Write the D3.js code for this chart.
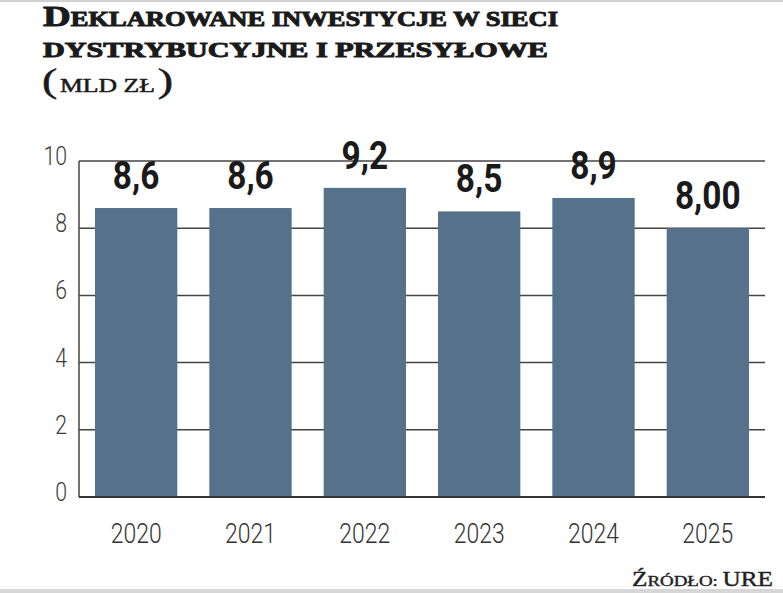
<!DOCTYPE html>
<html><head><meta charset="utf-8">
<script src="https://cdn.jsdelivr.net/npm/d3@7"></script>
<style>body{margin:0;background:#fff}svg{display:block}</style>
</head><body>
<script>
const years = ["2020","2021","2022","2023","2024","2025"];
const values = [8.6, 8.6, 9.2, 8.5, 8.9, 8.0];
const valueLabels = ["8,6","8,6","9,2","8,5","8,9","8,00"];
const yTicks = [0,2,4,6,8,10];

const W = 783, H = 593;
const svg = d3.select("body").append("svg").attr("width", W).attr("height", H);

svg.append("rect").attr("x",0).attr("y",0).attr("width",W).attr("height",2).attr("fill","#d0d0d0");
svg.append("rect").attr("x",0).attr("y",589).attr("width",W).attr("height",4).attr("fill","#d6d6d6");

const x = d3.scaleBand().domain(years).range([79, 765]).paddingInner(0.28).paddingOuter(0.14);
const y = d3.scaleLinear().domain([0, 10]).range([497, 161]);

// gridlines
svg.append("g").selectAll("line").data(yTicks).join("line")
  .attr("x1", 79).attr("x2", 765)
  .attr("y1", d => y(d)).attr("y2", d => y(d))
  .attr("stroke", "#444").attr("stroke-width", 1.5);
svg.append("line").attr("x1",79).attr("x2",79).attr("y1",y(10)).attr("y2",y(0))
  .attr("stroke","#444").attr("stroke-width",1.5);

// bars
svg.append("g").selectAll("rect").data(values).join("rect")
  .attr("x", (d,i) => x(years[i])).attr("width", x.bandwidth())
  .attr("y", d => y(d)).attr("height", d => y(0) - y(d))
  .attr("fill", "#56718a");
svg.append("line").attr("x1",79).attr("x2",765).attr("y1",y(0)).attr("y2",y(0))
  .attr("stroke","#333").attr("stroke-width",2);

function sText(g, tx, ty, sx, txt, anchor, size, weight, fill, family) {
  const gg = g.append("g").attr("transform", `translate(${tx},${ty})`);
  gg.append("text").attr("transform", `scale(${sx},1)`)
    .attr("text-anchor", anchor).attr("font-size", size).attr("font-weight", weight)
    .attr("fill", fill).attr("font-family", family).text(txt);
}

// y tick labels
const gy = svg.append("g");
yTicks.forEach(t => sText(gy, 67, y(t) + 4, 0.85, String(t), "end", 25, 300, "#3a3a3a", "Roboto"));

// year labels
const gx = svg.append("g");
years.forEach(yr => sText(gx, x(yr) + x.bandwidth()/2, 543, 0.82, yr, "middle", 28, 300, "#333", "Roboto"));

// value labels
const gv = svg.append("g");
values.forEach((v, i) => sText(gv, x(years[i]) + x.bandwidth()/2, y(v) - 19, 0.88, valueLabels[i], "middle", 38, 700, "#1a1a1a", "Roboto"));

// title
const serif = "'Liberation Serif', serif";
const t1 = svg.append("text").attr("x", 43).attr("y", 26).attr("font-family", serif)
  .attr("font-weight", 700).attr("fill", "#1a1a1a").attr("stroke", "#1a1a1a").attr("stroke-width", 0.9)
  .attr("textLength", 515).attr("lengthAdjust", "spacingAndGlyphs");
t1.append("tspan").attr("font-size", 29).text("D");
t1.append("tspan").attr("font-size", 20).text("EKLAROWANE INWESTYCJE W SIECI");
svg.append("text").attr("x", 43).attr("y", 57).attr("font-family", serif)
  .attr("font-weight", 700).attr("fill", "#1a1a1a").attr("stroke", "#1a1a1a").attr("stroke-width", 0.9)
  .attr("font-size", 20)
  .attr("textLength", 505).attr("lengthAdjust", "spacingAndGlyphs")
  .text("DYSTRYBUCYJNE I PRZESYŁOWE");
const t3 = svg.append("text").attr("x", 42).attr("y", 92).attr("font-family", serif)
  .attr("font-weight", 400).attr("fill", "#1a1a1a").attr("stroke", "#1a1a1a").attr("stroke-width", 0.5)
  .attr("textLength", 131).attr("lengthAdjust", "spacingAndGlyphs");
t3.append("tspan").attr("font-size", 34).text("(");
t3.append("tspan").attr("font-size", 19).attr("dx", 2).text("MLD ZŁ");
t3.append("tspan").attr("font-size", 34).attr("dx", 2).text(")");

// source
const s = svg.append("text").attr("x", 632).attr("y", 586).attr("font-family", serif)
  .attr("fill", "#222").attr("stroke", "#222").attr("stroke-width", 0.4)
  .attr("textLength", 141).attr("lengthAdjust", "spacingAndGlyphs");
s.append("tspan").attr("font-size", 20).text("Ź");
s.append("tspan").attr("font-size", 15).text("RÓDŁO: ");
s.append("tspan").attr("font-size", 20).text("URE");
</script>
</body></html>
